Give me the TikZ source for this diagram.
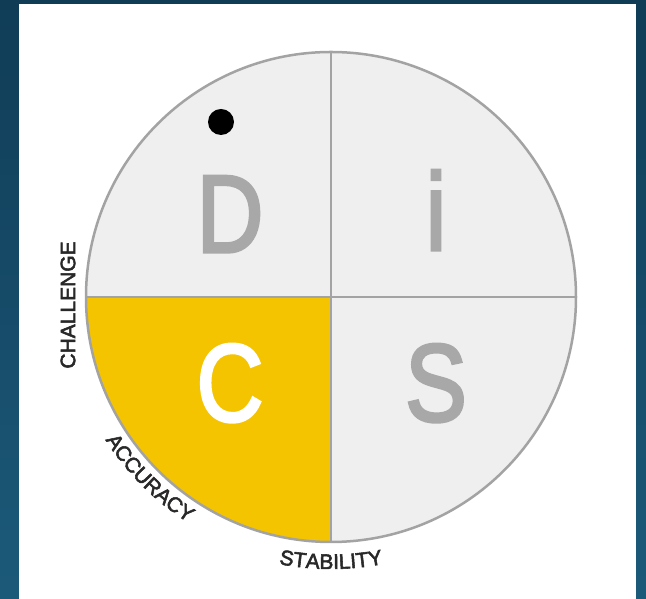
\documentclass[tikz,border=0pt]{standalone}
\usepackage{fontspec}
\setmainfont{Liberation Sans}
\newfontfamily\rimfam{Liberation Sans}[FakeBold=2.5]
\newfontfamily\bigfam{Liberation Sans}[FakeBold=3]
\usetikzlibrary{decorations.text}
\definecolor{navyT}{RGB}{16,60,86}
\definecolor{navyB}{RGB}{28,90,122}
\definecolor{quad}{RGB}{239,239,239}
\definecolor{rim}{RGB}{163,163,163}
\definecolor{gold}{RGB}{245,196,0}
\definecolor{glyph}{RGB}{168,168,168}
\definecolor{ink}{RGB}{40,40,40}
\newcommand{\sidefont}{\rimfam\fontsize{21}{21}\selectfont}
\tikzset{
  big/.style={font=\bigfam\fontsize{110}{110}\selectfont,text=glyph,inner sep=0pt,
    anchor=base,xscale=0.84},
  side/.style={font=\sidefont,text=ink,inner sep=0pt},
  rimline/.style={draw=rim,line width=2.5pt},
}

\begin{document}
\begin{tikzpicture}[x=1pt,y=1pt]
  \shade[top color=navyT,bottom color=navyB] (0,0) rectangle (646,599);
  \fill[white] (19,0) rectangle (636,595);
  \coordinate (o) at (331,302);
  \path (o) ++(90:245) coordinate (top) (o) ++(270:245) coordinate (bot)
        (o) ++(180:245) coordinate (lft) (o) ++(0:245) coordinate (rgt);

  % quadrants
  \fill[quad] (o) circle[radius=245];
  \fill[gold] (o) -- (lft) arc[start angle=180,end angle=270,radius=245] -- cycle;
  \draw[rimline] (o) circle[radius=245];
  \draw[rimline] (lft) -- (rgt);
  \draw[rimline] (top) -- (bot);

  \node[big] (d) at (230,347) {D};
  \node[big] (i) at (436,349) {i};
  \node[big,text=white] (c) at (230,178) {C};
  \node[big] (s) at (436,178) {S};
  \fill[black] (221,477) circle[radius=13];

  % labels round the rim
  \node[side,rotate=90] (chal) at (68,294) {CHALLENGE};
  \path[decorate,decoration={text along path,text align=center,text color=ink,
      text={|\sidefont|ACCURACY}}]
    (o) ++(205:267) arc[start angle=205,end angle=245,radius=267];
  \path[decorate,decoration={text along path,text align=center,text color=ink,
      text={|\sidefont|STABILITY}}]
    (o) ++(250:272) arc[start angle=250,end angle=290,radius=272];
\end{tikzpicture}
\end{document}
